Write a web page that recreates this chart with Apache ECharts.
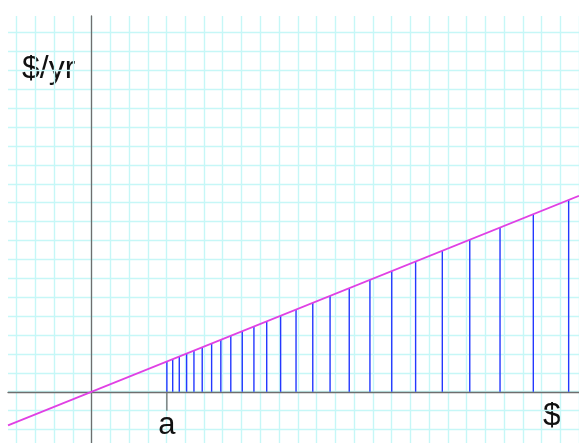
<!DOCTYPE html>
<html>
<head>
<meta charset="utf-8">
<script src="https://cdn.jsdelivr.net/npm/echarts@6/dist/echarts.min.js"></script>
<style>
html, body { margin: 0; padding: 0; background: #fff; }
#chart { width: 579px; height: 443px; }
</style>
</head>
<body>
<div id="chart"></div>
<script>
// 坐标范围（单位：格）
const xRange = [-4.45, 25.92];
const yRange = [-2.71, 19.88];

// 斜线（收入线）两端
const incomeLineX = [-4.45, 25.92];
const incomeLineY = [-1.78, 10.37];

// 蓝色竖线的位置和高度
const stripX = [4.0, 4.31, 4.66, 5.05, 5.44, 5.88, 6.38, 6.87, 7.40, 8.01,
  8.63, 9.31, 10.05, 10.87, 11.76, 12.68, 13.70, 14.80, 15.96, 17.23,
  18.65, 20.11, 21.72, 23.49, 25.37];
const stripY = [1.60, 1.72, 1.86, 2.02, 2.18, 2.35, 2.55, 2.75, 2.96, 3.20,
  3.45, 3.72, 4.02, 4.35, 4.70, 5.07, 5.48, 5.92, 6.38, 6.89,
  7.46, 8.04, 8.69, 9.40, 10.15];

// 文字
const aValue = 4;
const aLabel = 'a';
const yLabel = '$/yr';
const xLabel = '$';

const gridColor = '#c6f7f7';
const axisColor = '#6e6e6e';
const font = '"Liberation Sans", Arial, sans-serif';

const chart = echarts.init(document.getElementById('chart'));

const option = {
  backgroundColor: '#ffffff',
  animation: false,
  grid: [
    // 竖向网格线
    { left: 16.5, top: 16, width: 564, bottom: 0 },
    // 横向网格线
    { left: 8, top: 32.6, right: 0, height: 396.9 },
    // 数据区
    { left: 8, top: 16, width: 571, height: 427 }
  ],
  xAxis: [
    {
      gridIndex: 0, type: 'value', min: -4, max: 26, interval: 1,
      axisLine: { show: false }, axisTick: { show: false }, axisLabel: { show: false },
      splitLine: { show: true, lineStyle: { color: gridColor, width: 1.4 } }
    },
    { gridIndex: 1, type: 'value', min: 0, max: 1, show: false },
    {
      gridIndex: 2, type: 'value', min: xRange[0], max: xRange[1],
      axisLine: { show: true, onZero: true, lineStyle: { color: axisColor, width: 1.3 } },
      axisTick: { show: false }, axisLabel: { show: false }, splitLine: { show: false }
    }
  ],
  yAxis: [
    { gridIndex: 0, type: 'value', min: 0, max: 1, show: false },
    {
      gridIndex: 1, type: 'value', min: -2, max: 19, interval: 1,
      axisLine: { show: false }, axisTick: { show: false }, axisLabel: { show: false },
      splitLine: { show: true, lineStyle: { color: gridColor, width: 1.4 } }
    },
    {
      gridIndex: 2, type: 'value', min: yRange[0], max: yRange[1],
      axisLine: { show: true, onZero: true, lineStyle: { color: axisColor, width: 1.3 } },
      axisTick: { show: false }, axisLabel: { show: false }, splitLine: { show: false }
    }
  ],
  series: [
    {
      // 蓝色竖线
      type: 'custom',
      xAxisIndex: 2, yAxisIndex: 2,
      z: 3,
      data: stripX.map((x, i) => [x, stripY[i]]),
      renderItem: (params, api) => {
        const p0 = api.coord([api.value(0), 0]);
        const p1 = api.coord([api.value(0), api.value(1)]);
        return {
          type: 'line',
          shape: { x1: p0[0], y1: p0[1], x2: p1[0], y2: p1[1] },
          style: { stroke: '#2438ff', lineWidth: 1.4 }
        };
      }
    },
    {
      // a 处的刻度和标签
      type: 'custom',
      xAxisIndex: 2, yAxisIndex: 2,
      z: 3,
      data: [[aValue, -1]],
      renderItem: (params, api) => {
        const p0 = api.coord([api.value(0), 0]);
        const p1 = api.coord([api.value(0), api.value(1)]);
        return {
          type: 'group',
          children: [
            {
              type: 'line',
              shape: { x1: p0[0], y1: p0[1], x2: p1[0], y2: p1[1] },
              style: { stroke: axisColor, lineWidth: 1.3 }
            },
            {
              type: 'text',
              x: p1[0], y: p1[1] - 1,
              style: {
                text: aLabel, fill: '#111', font: '31px ' + font,
                align: 'center', verticalAlign: 'top'
              }
            }
          ]
        };
      }
    },
    {
      // 斜线
      type: 'line',
      xAxisIndex: 2, yAxisIndex: 2,
      z: 4,
      symbol: 'none',
      data: incomeLineX.map((x, i) => [x, incomeLineY[i]]),
      lineStyle: { color: '#e040e4', width: 1.8 }
    }
  ],
  graphic: [
    {
      type: 'text', left: 22, top: 53,
      style: { text: yLabel, fill: '#111', font: '32px ' + font }
    },
    {
      type: 'text', left: 543, top: 400,
      style: { text: xLabel, fill: '#111', font: '32px ' + font }
    }
  ]
};

chart.setOption(option);
</script>
</body>
</html>
